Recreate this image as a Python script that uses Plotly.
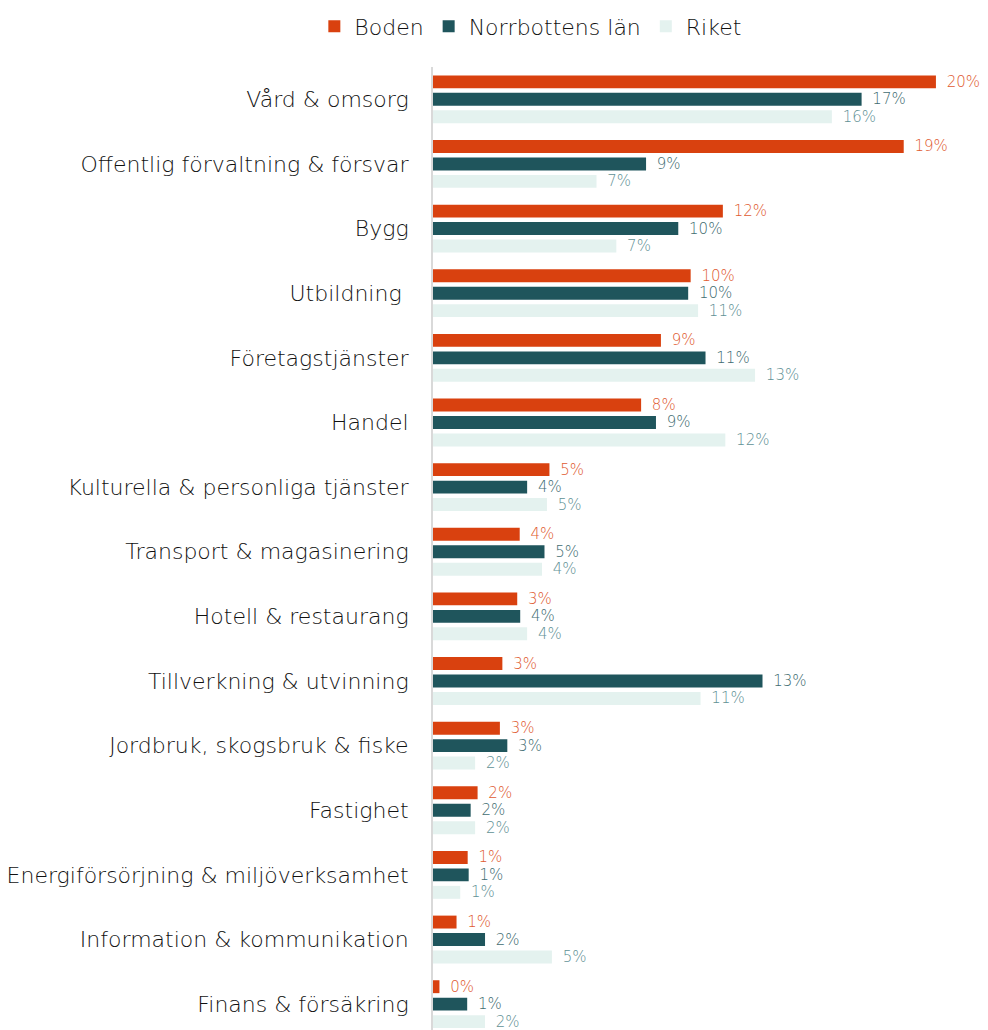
import plotly.graph_objects as go

categories = [
    "Vård & omsorg",
    "Offentlig förvaltning & försvar",
    "Bygg",
    "Utbildning\u00a0",
    "Företagstjänster",
    "Handel",
    "Kulturella & personliga tjänster",
    "Transport & magasinering",
    "Hotell & restaurang",
    "Tillverkning & utvinning",
    "Jordbruk, skogsbruk & fiske",
    "Fastighet",
    "Energiförsörjning & miljöverksamhet",
    "Information & kommunikation",
    "Finans & försäkring",
]

boden = [20.3, 19.0, 11.7, 10.4, 9.2, 8.4, 4.7, 3.5, 3.4, 2.8, 2.7, 1.8, 1.4, 0.95, 0.26]
norrbotten = [17.3, 8.6, 9.9, 10.3, 11.0, 9.0, 3.8, 4.5, 3.52, 13.3, 3.0, 1.52, 1.44, 2.1, 1.38]
riket = [16.1, 6.6, 7.4, 10.7, 13.0, 11.8, 4.6, 4.4, 3.8, 10.8, 1.7, 1.7, 1.1, 4.8, 2.1]

series = [
    ("Boden", boden, "#D9410F", "#E05A30"),
    ("Norrbottens län", norrbotten, "#1F555C", "#416C71"),
    ("Riket", riket, "#E4F2EF", "#5F9195"),
]

FONT = "DejaVu Sans"

fig = go.Figure()
for name, vals, color, tcolor in series:
    fig.add_trace(go.Bar(
        name=name,
        y=categories,
        x=vals,
        orientation="h",
        marker=dict(color=color, line=dict(width=0)),
        texttemplate="\u2009\u00a0%{x:.0f}%",
        textposition="outside",
        constraintext="none",
        textfont=dict(family=FONT, size=15, color=tcolor, weight=300),
        cliponaxis=False,
    ))

# The page body adds an 8px offset, so the figure is drawn 8px smaller
fig.update_layout(
    width=980,
    height=1022,
    barmode="group",
    bargap=0.19,
    bargroupgap=0.26,
    plot_bgcolor="white",
    paper_bgcolor="white",
    margin=dict(l=425, r=5, t=59, b=0),
    font=dict(family=FONT, size=22, color="#111111", weight=300),
    legend=dict(
        orientation="h",
        xref="container", yref="container",
        x=0.533, xanchor="center",
        y=0.982, yanchor="middle",
        font=dict(family=FONT, size=22, color="#111111", weight=300),
        traceorder="normal",
    ),
    xaxis=dict(
        range=[0, 22.2],
        showgrid=False,
        zeroline=False,
        showticklabels=False,
        showline=False,
        fixedrange=True,
        automargin=False,
    ),
    yaxis=dict(
        categoryorder="array",
        categoryarray=categories,
        range=[14.4, -0.5],
        showgrid=False,
        zeroline=False,
        showline=True,
        linecolor="#D9D9D9",
        linewidth=2,
        ticks="outside",
        ticklen=18,
        tickcolor="rgba(0,0,0,0)",
        tickfont=dict(family=FONT, size=22, color="#111111", weight=300),
        automargin=False,
    ),
    showlegend=True,
)

fig.write_html("out.html")
